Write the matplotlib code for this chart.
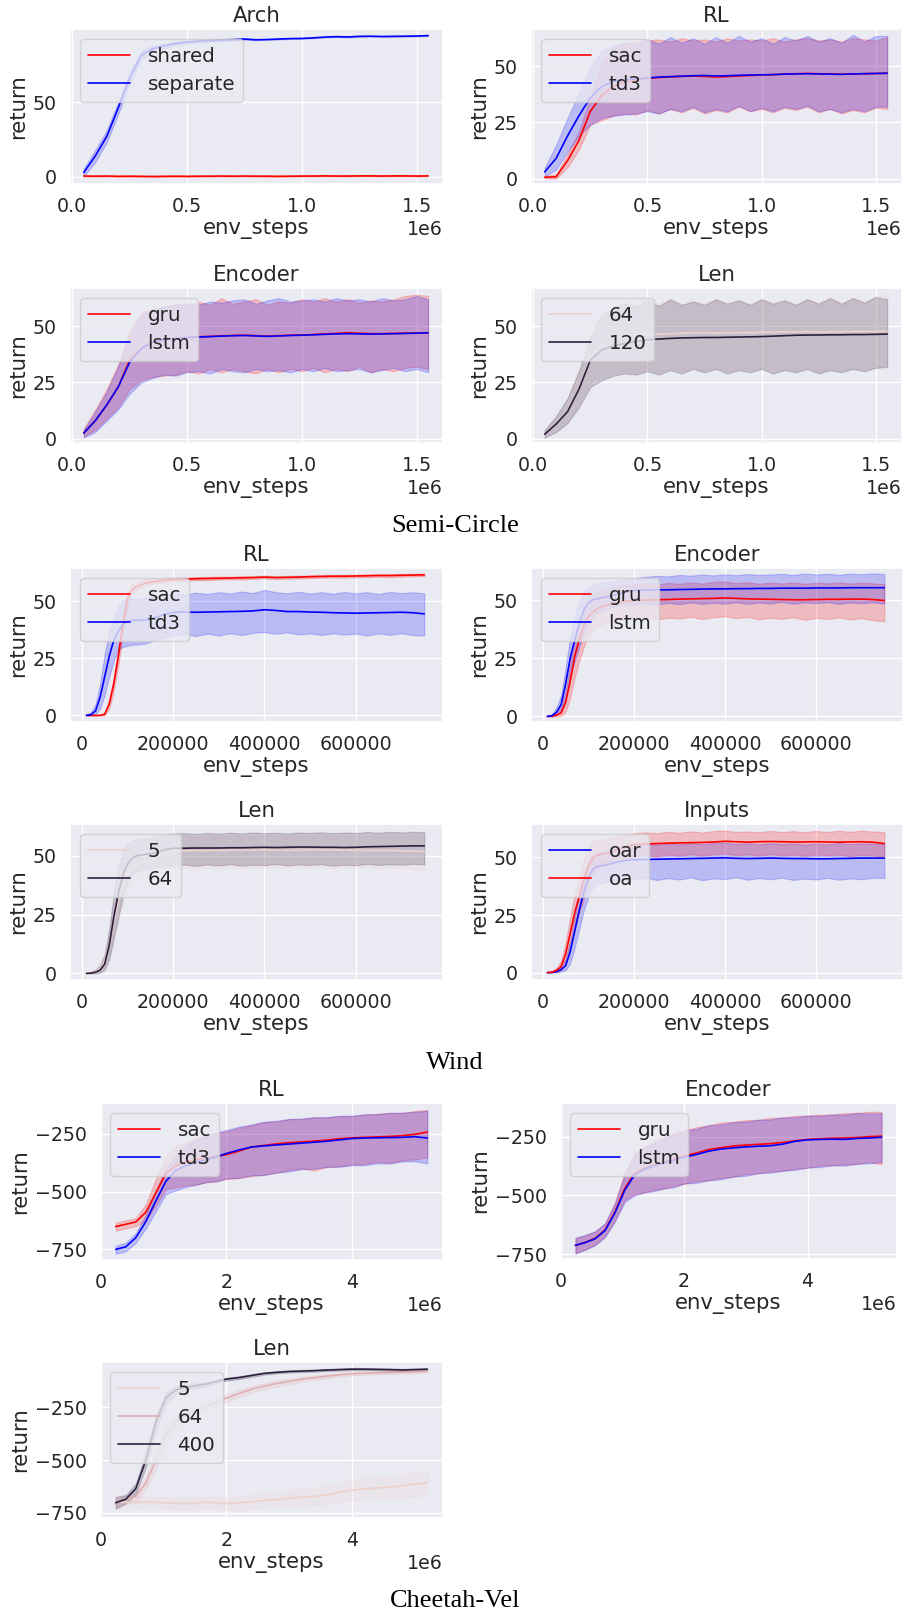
import numpy as np
import matplotlib
matplotlib.use("Agg")
import matplotlib.pyplot as plt
import seaborn as sns

# ---------------- Semi-Circle (env_steps in 1e6) ----------------
SEMI_X = [0.05, 0.10, 0.15, 0.20, 0.25, 0.30, 0.35, 0.40, 0.45, 0.50, 0.55, 0.60, 0.65, 0.70, 0.75, 0.80,
          0.85, 0.90, 0.95, 1.00, 1.05, 1.10, 1.15, 1.20, 1.25, 1.30, 1.35, 1.40, 1.45, 1.50, 1.55]

semi_arch_shared = [0.6, 0.5, 0.6, 0.4, 0.5, 0.4, 0.3, 0.4, 0.5, 0.4, 0.5, 0.5, 0.6, 0.5, 0.6, 0.5,
                    0.5, 0.4, 0.5, 0.6, 0.6, 0.7, 0.6, 0.6, 0.7, 0.7, 0.6, 0.7, 0.7, 0.6, 0.7]
semi_arch_shared_lo = [0.2, 0.1, 0.2, 0.0, 0.1, 0.0, -0.1, 0.0, 0.1, 0.0, 0.1, 0.1, 0.2, 0.1, 0.2, 0.1,
                       0.1, 0.0, 0.1, 0.2, 0.2, 0.3, 0.2, 0.2, 0.3, 0.3, 0.2, 0.3, 0.3, 0.2, 0.3]
semi_arch_shared_hi = [1.0, 0.9, 1.0, 0.8, 0.9, 0.8, 0.7, 0.8, 0.9, 0.8, 0.9, 0.9, 1.0, 0.9, 1.0, 0.9,
                       0.9, 0.8, 0.9, 1.0, 1.0, 1.1, 1.0, 1.0, 1.1, 1.1, 1.0, 1.1, 1.1, 1.0, 1.1]
semi_arch_separate = [3, 14, 27, 46, 66, 81, 85.5, 87.5, 89, 90, 90.5, 91, 91.3, 91.6, 92, 91.5,
                      91.7, 92, 92.3, 92.4, 92.8, 93.3, 93.6, 93.4, 93.8, 93.9, 93.7, 93.8, 93.9, 94.0, 94.3]
semi_arch_separate_lo = [0.5, 10, 23, 42, 62, 78, 83.5, 86, 87.8, 89, 89.6, 90.2, 90.6, 91, 91.6, 91.2,
                         91.4, 91.7, 92, 92.1, 92.5, 93, 93.3, 93.1, 93.5, 93.6, 93.4, 93.5, 93.6, 93.7, 94.0]
semi_arch_separate_hi = [5.5, 18, 31, 50, 70, 84, 87.5, 89, 90.2, 91, 91.4, 91.8, 92, 92.2, 92.4, 91.8,
                         92, 92.3, 92.6, 92.7, 93.1, 93.6, 93.9, 93.7, 94.1, 94.2, 94.0, 94.1, 94.2, 94.3, 94.6]

semi_rl_sac = [0.6, 0.8, 8, 17, 30, 37, 41, 43, 44, 44.6, 45, 45.3, 45.5, 45.7, 45.5, 45.2,
               45.4, 45.7, 45.9, 46.1, 46.3, 46.5, 46.7, 46.8, 46.7, 46.6, 46.5, 46.6, 46.7, 46.8, 46.9]
semi_rl_sac_lo = [0, 0, 5, 13, 24, 26, 28, 29, 28.5, 30.5, 29, 31, 29.5, 31.5, 29, 30.5,
                  29.5, 32, 30, 31, 29.5, 31.5, 30.5, 32, 29.5, 31, 29, 30.5, 29.5, 31.5, 31]
semi_rl_sac_hi = [1.2, 1.8, 11, 21, 36, 52, 58, 60, 61, 61.5, 62, 61, 62.5, 61.5, 62, 61,
                  62.5, 61.5, 62, 61.5, 62.5, 61, 62, 62.5, 61.5, 62, 61, 62.5, 62, 61.5, 63]
semi_rl_td3 = [3, 9, 19, 28, 36, 41, 43.3, 44, 44.4, 44.8, 45.2, 45.4, 45.6, 45.8, 45.9, 45.7,
               45.8, 46, 46.1, 46.2, 46.3, 46.5, 46.6, 46.7, 46.6, 46.5, 46.4, 46.6, 46.7, 46.8, 46.9]
semi_rl_td3_lo = [1, 4, 12, 19, 24, 27, 28, 28.5, 29, 30, 29, 31, 30, 32, 29.5, 31,
                  30, 32.5, 30, 31.5, 30, 32, 31, 32.5, 30, 31, 29.5, 31, 30, 32, 32]
semi_rl_td3_hi = [5, 15, 27, 38, 50, 57, 59, 61, 59.5, 62, 60, 63, 60.5, 62.5, 60, 63,
                  60.5, 63.5, 61, 62.5, 60, 63, 61.5, 63.5, 61, 62.5, 60.5, 64, 61, 63.5, 63.5]

semi_enc_gru = [2.5, 8, 15, 23, 35, 40, 43, 44, 44.6, 45, 45.3, 45.5, 45.7, 45.9, 46, 45.8,
                45.6, 45.8, 46, 46.1, 46.3, 46.6, 46.8, 47.1, 46.9, 46.7, 46.7, 46.8, 46.9, 47, 47.1]
semi_enc_gru_lo = [1, 4, 9, 14, 22, 26, 27.5, 28, 28.5, 30, 29, 31, 29.5, 31, 30, 29,
                   31, 29.5, 31, 30, 31.5, 29.5, 31, 30, 32, 29.5, 31, 30, 31.5, 32, 31]
semi_enc_gru_hi = [4.5, 13, 22, 33, 48, 56, 58, 58.5, 60, 59, 61, 59.5, 62.5, 60, 61, 62,
                   59.5, 61, 60.5, 62, 61, 62.5, 61, 62, 60.5, 61.5, 61, 62, 63.5, 64, 63.5]
semi_enc_lstm = [2.5, 8, 15, 23, 34, 40, 43, 44, 44.5, 45, 45.2, 45.4, 45.6, 45.8, 45.9, 45.7,
                 45.5, 45.7, 45.9, 46, 46.2, 46.4, 46.6, 46.7, 46.6, 46.5, 46.6, 46.7, 46.8, 46.9, 47.1]
semi_enc_lstm_lo = [0.5, 3, 8, 13, 20, 25, 27, 28.5, 28, 29.5, 30, 29, 31, 30, 29.5, 31,
                    30, 30.5, 29.5, 31, 30, 31.5, 30, 30.5, 31, 29.5, 30.5, 31.5, 30, 31, 29.5]
semi_enc_lstm_hi = [4, 12, 21, 32, 46, 55, 57, 59, 59.5, 60, 59.5, 61, 60.5, 61.5, 62, 60,
                    61.5, 62.5, 61, 61.5, 62, 61, 62.5, 61.5, 62, 61, 62.5, 61.5, 62, 63.5, 62]

semi_len_64 = [2, 6.5, 12, 22, 36, 41.5, 44, 45.5, 46, 46.3, 46.5, 46.7, 46.9, 47, 47, 46.9,
               47, 47.1, 47.2, 47.3, 47.4, 47.5, 47.5, 47.6, 47.5, 47.5, 47.6, 47.6, 47.7, 47.7, 47.8]
semi_len_64_lo = [0.5, 3, 7, 15, 25, 28, 29.5, 30, 29.5, 31, 30, 31.5, 30, 31.5, 30.5, 31.5,
                  30, 31, 30.5, 31.5, 30, 31, 30.5, 31.5, 30, 31, 30.5, 31.5, 30.5, 31.5, 31]
semi_len_64_hi = [4, 10, 18, 31, 47, 56, 59, 61, 60, 62, 60, 62.5, 60, 62, 60.5, 62.5,
                  60.5, 62, 60, 62.5, 60.5, 62, 60, 62.5, 60.5, 63, 60.5, 63, 61, 63.5, 64]
semi_len_120 = [2, 6.5, 12, 22, 35, 39.5, 41.3, 42.3, 43.2, 44, 44.3, 44.6, 44.8, 44.9, 45, 45,
                45.1, 45.2, 45.3, 45.4, 45.6, 45.8, 46, 46.1, 46.1, 46.2, 46.2, 46.3, 46.3, 46.4, 46.5]
semi_len_120_lo = [0.5, 3, 7, 14, 23, 26, 28, 29, 28.5, 30, 28.5, 30.5, 29, 31, 29.5, 31,
                   29, 30.5, 29.5, 31, 29, 30.5, 29.5, 31, 29, 30.5, 29.5, 31, 30, 31.5, 32]
semi_len_120_hi = [4, 10, 18, 30, 45, 55, 58, 60, 59, 61.5, 59, 62, 59.5, 61, 59.5, 62,
                   60, 61.5, 59.5, 62, 60, 61.5, 59.5, 62, 60, 62.5, 60, 62.5, 60.5, 63, 62]

# ---------------- Wind (env_steps in 1e3) ----------------
WIND_X = [10, 20, 30, 40, 50, 60, 70, 80, 90, 100, 110, 120, 140, 160, 180, 200, 225, 250, 275,
          300, 325, 350, 375, 400, 425, 450, 475, 500, 525, 550, 575, 600, 625, 650, 675, 700, 725, 750]

wind_rl_sac = [0, 0, 0, 0, 0.5, 5, 14, 26, 40, 51, 55, 56.5, 58, 58.7, 59.2, 59.5, 59.7, 59.9, 60,
               60.1, 60.2, 60.3, 60.4, 60.6, 60.4, 60.5, 60.6, 60.8, 60.9, 61, 61, 61.1, 61.2, 61.3, 61.3, 61.4, 61.5, 61.6]
wind_rl_sac_lo = [0, 0, 0, 0, 0, 3, 11, 22, 36, 48, 53, 55, 57, 57.8, 58.4, 58.8, 59.0, 59.3, 59.3,
                  59.5, 59.6, 59.6, 59.8, 60.0, 59.8, 59.9, 60.0, 60.2, 60.3, 60.4, 60.3, 60.5, 60.6, 60.7, 60.6, 60.8, 60.9, 61.0]
wind_rl_sac_hi = [0, 0, 0, 0.3, 1.2, 7, 17, 30, 45, 54, 57.5, 58.5, 59.5, 60, 60.3, 60.3, 60.4, 60.6, 60.7,
                  60.8, 60.8, 61.0, 61.0, 61.3, 61.0, 61.2, 61.2, 61.4, 61.5, 61.6, 61.6, 61.7, 61.8, 61.9, 61.9, 62.0, 62.1, 62.2]
wind_rl_td3 = [0, 0.3, 2, 8, 17, 26, 33, 37, 40, 41.3, 41.7, 41.7, 41.8, 42.8, 44.2, 45.2, 45.3, 45.2, 45.3,
               45.4, 45.5, 45.6, 45.8, 46.3, 46, 45.5, 45.5, 45.3, 45.2, 45.0, 44.9, 44.8, 44.9, 45, 45.1, 45.2, 45.0, 44.5]
wind_rl_td3_lo = [0, 0, 0.5, 3, 9, 17, 24, 29, 30, 30.5, 31, 31, 31.5, 33, 34, 35, 35.5, 34.8, 35.8,
                  35, 36, 35.2, 36.2, 36.5, 35.8, 36.4, 35.5, 35.9, 35.2, 36, 35.4, 35.8, 35, 35.9, 35.3, 36, 35.2, 35]
wind_rl_td3_hi = [0.5, 1.5, 5, 14, 27, 37, 43, 48, 50.5, 51, 51, 51, 51.5, 52, 52.8, 53.5, 53, 53.8, 53.2,
                  54, 53.4, 54.3, 53.6, 55, 54, 53.5, 54.2, 53.4, 54, 53.3, 54.1, 53.5, 54, 53.2, 54.1, 53.6, 54, 53.5]

wind_enc_gru = [0, 0.1, 0.6, 1.5, 6, 15, 26, 33, 39, 43, 45, 46.5, 48, 49, 49.6, 50, 50.2, 50.3, 50.4,
                50.6, 50.7, 50.8, 50.9, 51.1, 50.9, 50.7, 50.6, 50.5, 50.4, 50.3, 50.3, 50.4, 50.5, 50.5, 50.6, 50.6, 50.4, 50]
wind_enc_gru_lo = [0, 0, 0, 0.3, 2, 8, 17, 24, 30, 35, 37.5, 39, 40.5, 41.5, 42, 42.5, 42.8, 41.8, 42.6,
                   42.2, 43, 42, 42.8, 43.2, 42.4, 42.9, 41.9, 42.6, 42.1, 42.8, 41.6, 42.5, 42, 42.7, 41.8, 42.4, 41.5, 41]
wind_enc_gru_hi = [0.2, 0.5, 1.5, 4, 11, 23, 34, 41, 46, 50, 52, 53.5, 55, 56, 56.5, 57, 57.4, 56.8, 57.6,
                   57.2, 57.8, 57.3, 58, 58.2, 57.5, 57.9, 57.2, 57.7, 57.3, 57.8, 57.2, 57.6, 57.4, 57.8, 57.3, 57.7, 57.4, 57]
wind_enc_lstm = [0, 0.3, 1.8, 5, 14, 25, 33, 40, 46, 49, 50.3, 50.8, 51.6, 52.5, 53.5, 54.3, 54.5, 54.6, 54.6,
                 54.7, 54.8, 54.9, 55, 55, 55.1, 55.1, 55.2, 55.2, 55.3, 55.3, 55.3, 55.4, 55.4, 55.4, 55.5, 55.5, 55.5, 55.5]
wind_enc_lstm_lo = [0, 0, 0.5, 2, 8, 17, 24, 30, 36, 40, 43, 45, 46.5, 47.5, 48, 48.3, 48.8, 48.2, 49,
                    48.4, 49.2, 48.5, 49, 48.6, 49.3, 48.5, 49.1, 48.7, 49.4, 48.6, 49.2, 48.8, 49.3, 48.5, 49.1, 48.8, 49.2, 48.7]
wind_enc_lstm_hi = [0.3, 1, 4, 9, 21, 34, 43, 50, 54, 56, 57, 57.5, 58, 58.5, 59, 59.5, 60.2, 60.6, 60.4,
                    61, 60.7, 61.2, 60.8, 61.3, 60.9, 61.4, 61, 61.2, 61.5, 61, 61.6, 61.2, 61.5, 61.1, 61.6, 61.3, 61.7, 61.4]

wind_len_5 = [0, 0.1, 0.6, 2, 5, 12, 22, 31, 38, 42, 45, 46.5, 47.5, 49, 51, 52, 52.1, 52.2, 52.2,
              52.3, 52.3, 52.4, 52.4, 52.5, 52.4, 52.3, 52.3, 52.4, 52.4, 52.5, 52.4, 52.3, 52.3, 52.2, 52.2, 52.1, 52, 51.8]
wind_len_5_lo = [0, 0, 0.2, 0.8, 2.5, 7, 15, 23, 30, 35, 38, 39.5, 41, 42.5, 44, 44.8, 45, 44.5, 45.2,
                 44.7, 45.3, 44.6, 45.1, 44.8, 45.3, 44.7, 45.1, 44.9, 45.2, 44.6, 45, 44.8, 45.2, 44.5, 45, 44.7, 44.5, 44]
wind_len_5_hi = [0.2, 0.5, 1.2, 4, 9, 18, 30, 39, 46, 49, 51.5, 53, 54, 55.5, 57, 58, 58.3, 58, 58.5,
                 58.1, 58.6, 58.2, 58.5, 58.3, 58.6, 58.1, 58.4, 58.2, 58.6, 58.1, 58.5, 58.2, 58.4, 58, 58.3, 58.1, 58.2, 57.8]
wind_len_64 = [0, 0.1, 0.5, 1.4, 4, 12, 24, 34, 42, 46.5, 49, 50, 50.6, 51.2, 52.5, 53.2, 53.2, 53.3, 53.3,
               53.3, 53.4, 53.4, 53.5, 53.6, 53.5, 53.6, 53.7, 53.7, 53.6, 53.6, 53.5, 53.6, 53.8, 53.9, 54, 54.1, 54.2, 54.2]
wind_len_64_lo = [0, 0, 0, 0.3, 1.5, 6, 15, 24, 33, 39, 42, 43.5, 44.5, 45, 45.5, 45.8, 46.2, 45.7, 46.3,
                  45.9, 46.4, 45.8, 46.2, 46, 46.5, 45.9, 46.3, 46.1, 46.4, 45.8, 46.2, 46, 46.5, 46.1, 46.4, 46.2, 46.6, 46.3]
wind_len_64_hi = [0.3, 0.8, 1.5, 3.5, 8, 19, 34, 45, 52, 55, 56.5, 57, 57.5, 58, 59, 59.5, 59.6, 59.3, 59.7,
                  59.4, 59.8, 59.5, 59.9, 59.6, 59.8, 59.5, 59.9, 59.7, 60, 59.6, 59.9, 59.7, 60.1, 59.8, 60.2, 59.9, 60.2, 60]

wind_in_oar = [0, 0.1, 0.4, 1.3, 3, 9, 18, 27, 35, 41, 45, 46, 46.8, 47.8, 48.6, 49, 49.1, 49.2, 49.3,
               49.4, 49.5, 49.6, 49.7, 49.8, 49.6, 49.5, 49.6, 49.7, 49.6, 49.5, 49.5, 49.4, 49.4, 49.5, 49.6, 49.7, 49.7, 49.7]
wind_in_oar_lo = [0, 0, 0.1, 0.5, 1, 4, 11, 19, 27, 33, 37, 38.5, 39.5, 40, 40.3, 40.5, 41.2, 40.2, 41,
                  40.4, 41.3, 40.1, 40.9, 40.6, 41.4, 40.3, 41, 40.5, 41.2, 40.2, 40.8, 40.4, 41.1, 40.3, 40.9, 40.5, 41.2, 41]
wind_in_oar_hi = [0.1, 0.3, 1, 3, 6, 14, 25, 35, 43, 48, 51, 52, 53, 54, 55, 55.5, 55.9, 55.6, 56.1,
                  55.7, 56.2, 55.8, 56.3, 56.4, 55.9, 56.1, 55.7, 56.2, 55.8, 56.1, 55.6, 56, 55.7, 56.2, 55.8, 56.1, 56, 55.9]
wind_in_oa = [0, 0.2, 1, 2.6, 8, 17, 26, 33, 40, 46, 50, 51, 51.8, 53, 54.5, 55.5, 55.8, 56, 56.2,
              56.3, 56.4, 56.5, 56.7, 57, 56.8, 56.6, 56.8, 56.9, 56.8, 56.7, 56.7, 56.8, 56.7, 56.6, 56.7, 56.8, 56.6, 56]
wind_in_oa_lo = [0, 0, 0.3, 1, 4, 11, 19, 26, 32, 39, 43, 45, 46.5, 48, 49.5, 50.5, 51, 50.4, 51.2,
                 50.7, 51.4, 50.8, 51.3, 51.6, 51, 51.3, 50.8, 51.4, 50.9, 51.2, 50.7, 51.3, 50.9, 51.2, 50.6, 51.1, 50.8, 50.3]
wind_in_oa_hi = [0.2, 0.6, 2, 5, 13, 24, 34, 42, 49, 54, 57, 57.5, 58, 59, 60, 60.5, 60.9, 60.5, 61.1,
                 60.7, 61.3, 60.8, 61.4, 61.7, 61, 61.3, 60.9, 61.5, 61, 61.4, 60.9, 61.5, 61, 61.6, 61.1, 61.6, 61.2, 61]

# ---------------- Cheetah-Vel (env_steps in 1e6) ----------------
CHEETAH_X = [0.24, 0.4, 0.56, 0.72, 0.88, 1.04, 1.2, 1.36, 1.52, 1.68, 1.84, 2.0, 2.2, 2.4,
             2.6, 2.8, 3.0, 3.2, 3.4, 3.6, 3.8, 4.0, 4.2, 4.4, 4.6, 4.8, 5.0, 5.2]

ch_rl_sac = [-652, -642, -632, -590, -505, -420, -387, -372, -362, -355, -348, -340, -325, -307,
             -300, -293, -288, -285, -281, -277, -271, -267, -265, -263, -261, -258, -252, -242]
ch_rl_sac_lo = [-670, -660, -650, -625, -560, -490, -482, -473, -470, -460, -456, -446, -442, -433,
                -427, -418, -407, -400, -409, -394, -390, -383, -381, -371, -376, -364, -361, -352]
ch_rl_sac_hi = [-635, -625, -615, -555, -445, -350, -300, -287, -268, -259, -246, -239, -224, -212,
                -199, -196, -186, -186, -179, -179, -173, -173, -166, -163, -159, -159, -151, -146]
ch_rl_td3 = [-751, -740, -700, -630, -540, -455, -408, -388, -372, -362, -350, -335, -320, -307,
             -302, -298, -294, -290, -286, -282, -276, -270, -268, -267, -266, -265, -262, -268]
ch_rl_td3_lo = [-770, -760, -722, -660, -585, -510, -495, -480, -471, -459, -456, -443, -441, -430,
                -429, -418, -413, -403, -401, -393, -393, -386, -386, -378, -379, -370, -369, -378]
ch_rl_td3_hi = [-735, -722, -680, -600, -495, -400, -340, -302, -274, -260, -244, -233, -219, -209,
                -197, -193, -185, -183, -177, -177, -171, -171, -165, -164, -159, -158, -154, -150]

ch_enc_gru = [-713, -700, -683, -648, -570, -470, -405, -385, -370, -358, -345, -332, -320, -305,
              -297, -290, -286, -283, -280, -275, -268, -262, -259, -257, -256, -254, -250, -248]
ch_enc_gru_lo = [-745, -730, -710, -675, -605, -520, -495, -487, -476, -471, -460, -451, -440, -436,
                 -426, -421, -410, -406, -398, -396, -386, -383, -373, -373, -368, -366, -358, -368]
ch_enc_gru_hi = [-682, -670, -655, -620, -530, -400, -320, -292, -268, -254, -233, -223, -210, -201,
                 -190, -187, -180, -179, -170, -169, -162, -161, -156, -156, -150, -149, -144, -145]
ch_enc_lstm = [-713, -701, -685, -650, -575, -478, -412, -390, -374, -362, -350, -338, -326, -312,
               -303, -298, -294, -291, -289, -282, -270, -264, -262, -261, -262, -258, -256, -253]
ch_enc_lstm_lo = [-748, -732, -712, -678, -612, -528, -500, -488, -482, -470, -466, -450, -447, -436,
                  -432, -420, -417, -406, -404, -395, -392, -382, -380, -372, -374, -366, -364, -358]
ch_enc_lstm_hi = [-680, -668, -652, -618, -535, -410, -330, -296, -277, -254, -242, -224, -217, -202,
                  -198, -188, -187, -178, -177, -168, -168, -160, -162, -156, -157, -150, -152, -150]

ch_len_5 = [-698, -700, -700, -699, -701, -702, -704, -706, -703, -699, -702, -706, -702, -697,
            -692, -686, -680, -676, -672, -665, -652, -642, -636, -632, -628, -622, -614, -606]
ch_len_5_lo = [-730, -728, -728, -726, -728, -730, -732, -735, -732, -728, -730, -735, -733, -730,
               -726, -722, -717, -714, -712, -707, -697, -690, -686, -684, -682, -678, -672, -665]
ch_len_5_hi = [-666, -670, -672, -672, -675, -676, -678, -680, -676, -672, -675, -678, -672, -665,
               -658, -650, -642, -637, -632, -624, -608, -596, -588, -582, -575, -568, -558, -548]
ch_len_64 = [-698, -688, -672, -610, -500, -380, -320, -290, -263, -245, -226, -207, -185, -165,
             -150, -138, -128, -118, -110, -103, -97, -92, -89, -87, -86, -84, -83, -81]
ch_len_64_lo = [-720, -708, -695, -640, -540, -420, -350, -315, -285, -265, -245, -225, -202, -180,
                -165, -152, -140, -130, -121, -113, -106, -100, -96, -94, -92, -90, -89, -87]
ch_len_64_hi = [-676, -668, -650, -580, -460, -340, -290, -265, -241, -225, -207, -189, -168, -150,
                -136, -124, -116, -106, -99, -93, -88, -84, -82, -80, -80, -78, -77, -75]
ch_len_400 = [-702, -685, -635, -500, -320, -205, -168, -155, -148, -140, -128, -117, -110, -100,
              -90, -85, -81, -79, -77, -74, -72, -70, -70, -71, -72, -74, -72, -70]
ch_len_400_lo = [-730, -705, -660, -535, -360, -235, -185, -168, -160, -150, -137, -125, -117, -107,
                 -96, -90, -86, -84, -82, -79, -77, -75, -75, -76, -78, -80, -77, -75]
ch_len_400_hi = [-675, -665, -610, -465, -285, -180, -153, -143, -137, -130, -120, -110, -103, -94,
                 -85, -80, -76, -74, -72, -69, -67, -65, -65, -66, -67, -68, -67, -65]

W, H = 907, 1614


def add_axes_px(fig, left, top, right, bottom):
    return fig.add_axes([left / W, 1 - bottom / H, (right - left) / W, (bottom - top) / H])


def draw_panel(ax, title, series, xticks, xlim, yticks, ylim):
    for label, color, x, mean, lo, hi in series:
        ax.plot(x, mean, color=color, lw=1.2, label=label)
        ax.fill_between(x, lo, hi, color=color, alpha=0.2, lw=0.8)
    ax.set_title(title, pad=5)
    ax.set_xlabel("env_steps", labelpad=2)
    ax.set_ylabel("return", labelpad=3)
    ax.set_xticks(xticks)
    ax.set_yticks(yticks)
    ax.set_xlim(*xlim)
    ax.set_ylim(*ylim)
    ax.legend(loc="upper left", handlelength=2.1, handletextpad=0.9, labelspacing=0.45)


def main():
    sns.set_theme(style="darkgrid")
    plt.rcParams.update({
        "font.family": ["DejaVu Sans"],
        "axes.titlesize": 15.3,
        "axes.labelsize": 15.3,
        "xtick.labelsize": 13.7,
        "ytick.labelsize": 13.7,
        "legend.fontsize": 14.3,
    })

    fig = plt.figure(figsize=(W / 100, H / 100), dpi=100)
    cmap = sns.cubehelix_palette(as_cmap=True)

    sx = np.array(SEMI_X) * 1e6
    wx = np.array(WIND_X) * 1e3
    cx = np.array(CHEETAH_X) * 1e6

    semi_ticks = [0, 0.5e6, 1.0e6, 1.5e6]
    semi_xlim = (-0.01e6, 1.615e6)
    wind_ticks = [0, 200000, 400000, 600000]
    wind_xlim = (-26000, 791000)
    ch_ticks = [0, 2e6, 4e6]
    ch_xlim = (-0.01e6, 5.45e6)
    ch_yticks = [-750, -500, -250]

    # Semi-Circle
    ax = add_axes_px(fig, 70, 29, 443, 184)
    draw_panel(ax, "Arch", [
        ("shared", "red", sx, semi_arch_shared, semi_arch_shared_lo, semi_arch_shared_hi),
        ("separate", "blue", sx, semi_arch_separate, semi_arch_separate_lo, semi_arch_separate_hi),
    ], semi_ticks, semi_xlim, [0, 50], (-4.7, 98.7))

    ax = add_axes_px(fig, 531, 29, 902, 184)
    draw_panel(ax, "RL", [
        ("sac", "red", sx, semi_rl_sac, semi_rl_sac_lo, semi_rl_sac_hi),
        ("td3", "blue", sx, semi_rl_td3, semi_rl_td3_lo, semi_rl_td3_hi),
    ], semi_ticks, semi_xlim, [0, 25, 50], (-2.4, 66.6))

    ax = add_axes_px(fig, 70, 288, 443, 443)
    draw_panel(ax, "Encoder", [
        ("gru", "red", sx, semi_enc_gru, semi_enc_gru_lo, semi_enc_gru_hi),
        ("lstm", "blue", sx, semi_enc_lstm, semi_enc_lstm_lo, semi_enc_lstm_hi),
    ], semi_ticks, semi_xlim, [0, 25, 50], (-1.9, 67))

    hues = [64, 120]
    ax = add_axes_px(fig, 531, 288, 902, 443)
    draw_panel(ax, "Len", [
        ("64", cmap((64 - hues[0]) / (hues[-1] - hues[0])), sx, semi_len_64, semi_len_64_lo, semi_len_64_hi),
        ("120", cmap((120 - hues[0]) / (hues[-1] - hues[0])), sx, semi_len_120, semi_len_120_lo, semi_len_120_hi),
    ], semi_ticks, semi_xlim, [0, 25, 50], (-1.9, 67))

    # Wind
    ax = add_axes_px(fig, 70, 568, 443, 722)
    draw_panel(ax, "RL", [
        ("sac", "red", wx, wind_rl_sac, wind_rl_sac_lo, wind_rl_sac_hi),
        ("td3", "blue", wx, wind_rl_td3, wind_rl_td3_lo, wind_rl_td3_hi),
    ], wind_ticks, wind_xlim, [0, 25, 50], (-2.9, 64.6))

    ax = add_axes_px(fig, 531, 568, 903, 722)
    draw_panel(ax, "Encoder", [
        ("gru", "red", wx, wind_enc_gru, wind_enc_gru_lo, wind_enc_gru_hi),
        ("lstm", "blue", wx, wind_enc_lstm, wind_enc_lstm_lo, wind_enc_lstm_hi),
    ], wind_ticks, wind_xlim, [0, 25, 50], (-2.4, 64))

    hues = [5, 64]
    ax = add_axes_px(fig, 70, 824, 443, 980)
    draw_panel(ax, "Len", [
        ("5", cmap((5 - hues[0]) / (hues[-1] - hues[0])), wx, wind_len_5, wind_len_5_lo, wind_len_5_hi),
        ("64", cmap((64 - hues[0]) / (hues[-1] - hues[0])), wx, wind_len_64, wind_len_64_lo, wind_len_64_hi),
    ], wind_ticks, wind_xlim, [0, 25, 50], (-2.8, 63.5))

    ax = add_axes_px(fig, 531, 824, 903, 980)
    draw_panel(ax, "Inputs", [
        ("oar", "blue", wx, wind_in_oar, wind_in_oar_lo, wind_in_oar_hi),
        ("oa", "red", wx, wind_in_oa, wind_in_oa_lo, wind_in_oa_hi),
    ], wind_ticks, wind_xlim, [0, 25, 50], (-3.2, 64.5))

    # Cheetah-Vel
    ax = add_axes_px(fig, 100, 1103, 443, 1260)
    draw_panel(ax, "RL", [
        ("sac", "red", cx, ch_rl_sac, ch_rl_sac_lo, ch_rl_sac_hi),
        ("td3", "blue", cx, ch_rl_td3, ch_rl_td3_lo, ch_rl_td3_hi),
    ], ch_ticks, ch_xlim, ch_yticks, (-797, -116))

    ax = add_axes_px(fig, 560, 1103, 897, 1259)
    draw_panel(ax, "Encoder", [
        ("gru", "red", cx, ch_enc_gru, ch_enc_gru_lo, ch_enc_gru_hi),
        ("lstm", "blue", cx, ch_enc_lstm, ch_enc_lstm_lo, ch_enc_lstm_hi),
    ], ch_ticks, ch_xlim, ch_yticks, (-771, -107))

    hues = [5, 64, 400]
    ax = add_axes_px(fig, 100, 1362, 443, 1518)
    norm = lambda v: (v - hues[0]) / (hues[-1] - hues[0])
    draw_panel(ax, "Len", [
        ("5", cmap(norm(5)), cx, ch_len_5, ch_len_5_lo, ch_len_5_hi),
        ("64", cmap(norm(64)), cx, ch_len_64, ch_len_64_lo, ch_len_64_hi),
        ("400", cmap(norm(400)), cx, ch_len_400, ch_len_400_lo, ch_len_400_hi),
    ], ch_ticks, ch_xlim, ch_yticks, (-774, -36))

    # section captions
    for text, y in [("Semi-Circle", 526), ("Wind", 1063), ("Cheetah-Vel", 1601)]:
        fig.text(455 / W, 1 - y / H, text, ha="center", va="center",
                 family="Liberation Serif", fontsize=19, color="black")

    fig.savefig("out.png", dpi=100)


if __name__ == "__main__":
    main()
